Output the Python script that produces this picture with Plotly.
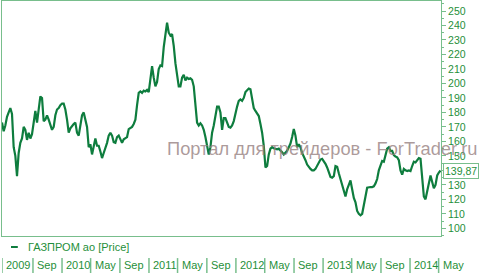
import pandas as pd
import plotly.graph_objects as go

# ---- data (weekly closes) ----
start_date = "2009-04-24"
prices = [
    173, 167, 171, 177, 180, 183, 179, 156, 150, 136,
    152, 159, 162, 170, 168, 161, 166, 162, 165, 175,
    181, 173, 182, 191, 190, 174, 175, 178, 175, 171,
    168, 170, 178, 182, 183, 185, 186, 186, 182, 175,
    166, 169, 171, 172, 173, 166, 164, 172, 178, 180,
    175, 170, 156, 158, 151, 158, 162, 157, 157, 153,
    148.5, 152, 155, 159, 164, 166, 164, 159.5, 159, 163,
    164, 161, 159, 161.5, 162, 163, 168.5, 169, 170, 172,
    175, 185, 193.5, 194.5, 193.5, 195, 194.5, 195.5, 194, 203,
    212, 204, 198, 201, 210, 212.5, 212, 225, 232, 242,
    235, 233, 234, 226, 214, 205, 198, 198, 204, 206,
    202, 204, 203, 203.5, 202.5, 198, 186, 173, 171, 172.5,
    171, 168, 163, 157, 151, 156, 166, 171, 178, 184,
    184, 180, 168, 176, 176, 173, 170, 169.5, 171, 174,
    180, 184, 188, 189, 188, 190, 194, 195, 196.5, 196,
    188, 183, 181, 179, 177.5, 172, 166, 157, 142, 143,
    151, 155, 156, 155.3, 155, 154.5, 155, 154, 152.5, 151,
    152, 153.5, 156, 158.5, 163, 168.5, 164, 156, 158, 156,
    152, 150, 147, 144, 142, 141, 140, 140, 141, 143,
    145.5, 147.5, 148, 146.5, 144.5, 142, 139, 135.5, 135, 136,
    143, 142.5, 138, 134, 130, 125, 122, 127, 130, 133,
    127, 121, 118, 112, 110, 109, 110, 115, 122, 128,
    128.5, 128.5, 128.5, 129, 131, 134, 140, 143, 146.5, 146,
    151, 155, 156, 153.5, 153.5, 150.5, 149.5, 149, 147, 140,
    137, 141, 140, 139.5, 140, 139.5, 143, 146, 145.5, 147.5,
    148.5, 148, 135, 122, 120, 126, 133, 136.5, 132, 127.7,
    130, 136.5, 138.5, 139.87,
]
dates = pd.date_range(start_date, periods=len(prices), freq="7D")

series_name = "ГАЗПРОМ ао [Price]"
last_label = "139,87"

y_ticks = list(range(100, 251, 10))

strip_dates = ["2009-04-24", "2009-09-01", "2010-01-01", "2010-05-01", "2010-09-01",
               "2011-01-01", "2011-05-01", "2011-09-01", "2012-01-01", "2012-05-01",
               "2012-09-01", "2013-01-01", "2013-05-01", "2013-09-01", "2014-01-01",
               "2014-05-01"]
strip_labels = ["2009", "Sep", "2010", "May", "Sep", "2011", "May", "Sep", "2012", "May",
                "Sep", "2013", "May", "Sep", "2014", "May"]

watermark = "Портал для трейдеров - ForTrader.ru"

# ---- styles ----
LINE = "#0e7d3e"
TXT = "#1f8f3a"
BORDER = "#78be8c"
FONT = "Liberation Sans, Arial, sans-serif"

fig = go.Figure()
fig.add_trace(go.Scatter(x=dates, y=prices, mode="lines", name=series_name,
                         line=dict(color=LINE, width=2.2), showlegend=False))

fig.update_layout(
    width=481, height=273,
    margin=dict(l=2, r=40, t=1, b=37),
    paper_bgcolor="white", plot_bgcolor="white",
    font=dict(family=FONT, color=TXT),
    xaxis=dict(range=["2009-04-24", "2014-05-11"], showgrid=False, zeroline=False,
               showticklabels=False, ticks="", showline=True, linecolor=BORDER,
               linewidth=1, mirror=True),
    yaxis=dict(side="right", range=[94.7, 256.9], tickvals=y_ticks,
               showgrid=False, zeroline=False, showline=True, linecolor=BORDER,
               linewidth=1, mirror=True, ticks="outside", ticklen=4, tickcolor=BORDER,
               tickfont=dict(size=10.5, color=TXT, family=FONT),
               minor=dict(dtick=5, ticks="outside", ticklen=2, tickcolor=BORDER)),
)

# watermark
fig.add_annotation(text=watermark, xref="paper", yref="paper", x=0.371, y=0.374,
                   xanchor="left", yanchor="middle", showarrow=False,
                   font=dict(size=18.3, color="rgba(150,128,128,0.78)", family=FONT))

# last value box
fig.add_annotation(text=last_label, xref="paper", yref="y", x=1.0, y=prices[-1],
                   xanchor="left", yanchor="middle", xshift=2, showarrow=False,
                   bgcolor="white", bordercolor=BORDER, borderwidth=1, borderpad=1,
                   font=dict(size=10.5, color=TXT, family=FONT))

# legend (dash + text)
fig.add_shape(type="line", xref="paper", yref="paper", x0=0.0205, x1=0.036,
              y0=-0.0468, y1=-0.0468, line=dict(color=LINE, width=2))
fig.add_annotation(text=series_name, xref="paper", yref="paper", x=0.0547, y=-0.0468,
                   xanchor="left", yanchor="middle", showarrow=False,
                   font=dict(size=11, color=TXT, family=FONT))

# bottom time strip
for d, lab in zip(strip_dates, strip_labels):
    fig.add_shape(type="line", xref="x", yref="paper", x0=d, x1=d,
                  y0=-0.16, y1=-0.094, line=dict(color=BORDER, width=1.5))
    fig.add_annotation(text=lab, xref="x", yref="paper", x=d, y=-0.1255,
                       xanchor="left", yanchor="middle", xshift=2, showarrow=False,
                       font=dict(size=11, color=TXT, family=FONT))

fig.write_html("out.html")
